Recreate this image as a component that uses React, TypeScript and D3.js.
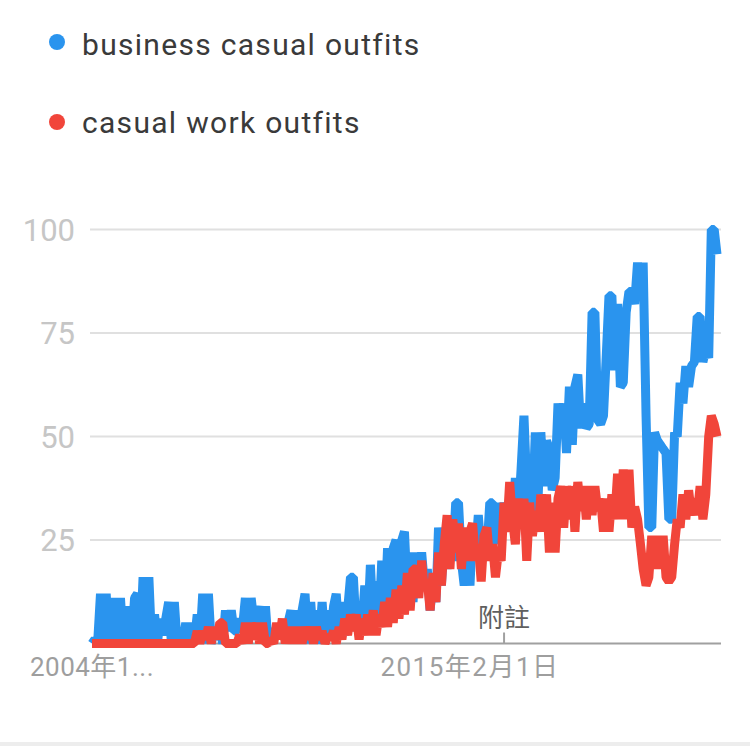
import * as d3 from 'd3'

// Google Trends style comparison, monthly interest 2004-01 .. 2022-05
const START = new Date(2004, 0, 1)
const END = new Date(2022, 4, 1)
const months = d3.timeMonth.range(START, d3.timeMonth.offset(END, 1))

const seriesNames = ['business casual outfits', 'casual work outfits']
const seriesColors = ['#2a94ee', '#f1453a']

// business casual outfits, one row per year (month to month it jumps a lot)
const businessCasual = [
  0, 1, 0, 12, 0, 12, 0, 0, 11, 0, 11, 0,
  0, 9, 0, 11, 12, 0, 16, 0, 16, 0, 7, 0,
  6, 2, 6, 10, 0, 10, 0, 0, 0, 5, 0, 5,
  0, 7, 0, 12, 0, 12, 0, 3, 1, 4, 0, 8,
  3, 8, 3, 3, 6, 4, 11, 0, 11, 5, 6, 9,
  0, 9, 0, 3, 2, 4, 2, 4, 1, 5, 8, 0,
  8, 0, 8, 12, 0, 10, 0, 8, 0, 10, 0, 8,
  2, 9, 12, 2, 10, 2, 8, 16, 16, 3, 10, 4,
  14, 4, 19, 5, 15, 5, 20, 6, 23, 8, 23, 25,
  10, 25, 27, 12, 22, 10, 22, 14, 22, 14, 18, 8,
  16, 10, 28, 14, 26, 18, 27, 20, 34, 34, 20, 14,
  20, 14, 28, 22, 31, 22, 25, 22, 34, 34, 24, 34,
  26, 34, 30, 33, 28, 40, 30, 42, 55, 38, 33, 32,
  51, 36, 51, 38, 49, 47, 37, 40, 58, 50, 58, 46,
  62, 48, 62, 65, 52, 58, 52, 53, 80, 80, 54, 53,
  55, 70, 84, 84, 66, 82, 62, 63, 80, 85, 85, 82,
  92, 84, 92, 55, 28, 28, 51, 49, 48, 47, 46, 30,
  30, 51, 50, 63, 58, 67, 62, 67, 68, 79, 79, 68,
  71, 69, 100, 100, 94
]

// casual work outfits, one row per year
const casualWork = [
  0, 0, 0, 0, 0, 0, 0, 0, 0, 0, 0, 0,
  0, 0, 0, 0, 0, 0, 0, 0, 0, 0, 0, 0,
  0, 0, 0, 0, 0, 0, 0, 0, 0, 0, 0, 0,
  0, 3, 0, 3, 1, 4, 0, 4, 1, 5, 5, 0,
  0, 0, 0, 0, 2, 0, 5, 0, 5, 1, 5, 0,
  5, 0, 0, 1, 0, 5, 1, 6, 0, 4, 0, 4,
  0, 4, 0, 4, 1, 4, 0, 4, 1, 3, 0, 2,
  1, 3, 0, 4, 1, 6, 2, 7, 3, 7, 1, 6,
  2, 7, 2, 8, 2, 7, 4, 10, 4, 11, 5, 13,
  6, 14, 7, 17, 8, 18, 18, 11, 20, 13, 15, 8,
  17, 10, 22, 14, 24, 31, 18, 30, 22, 29, 18, 28,
  20, 27, 29, 20, 24, 15, 26, 28, 20, 24, 16, 22,
  20, 34, 27, 39, 30, 24, 35, 28, 35, 20, 34, 26,
  32, 27, 36, 27, 36, 22, 34, 22, 35, 38, 28, 38,
  30, 38, 27, 39, 32, 38, 30, 38, 31, 38, 32, 35,
  27, 35, 27, 36, 30, 41, 30, 42, 30, 42, 28, 33,
  30, 24, 18, 14, 16, 26, 18, 26, 18, 26, 16, 15,
  16, 24, 30, 28, 36, 30, 37, 31, 35, 31, 38, 30,
  36, 50, 55, 53, 50
]

const yTicks = [25, 50, 75, 100]
const xTicks = [new Date(2004, 0, 1), new Date(2015, 1, 1)]
const xTickLabels = ['2004年1...', '2015年2月1日']
const noteDate = new Date(2016, 1, 1)
const noteLabel = '附註'

const W = 750
const H = 750

export default function App() {
  const x = d3.scaleTime().domain([START, END]).range([92, 717])
  const y = d3.scaleLinear().domain([0, 100]).range([643.5, 229.5])

  const line = d3.line<number>()
    .x((_, i) => x(months[i]))
    .y(d => y(d))

  const series = [businessCasual, casualWork]

  return (
    <div style={{ position: 'absolute', left: 0, top: 0 }}>
      <svg width={W} height={H} style={{ display: 'block', background: '#fff' }}>
        {/* legend */}
        {seriesNames.map((name, i) => (
          <g key={name}>
            <circle cx={57} cy={42 + i * 80} r={8} fill={seriesColors[i]} />
            <text x={82} y={55 + i * 78} fontFamily="Roboto" fontSize={30} letterSpacing={1.3} fill="#3a3a3a">
              {name}
            </text>
          </g>
        ))}

        {/* grid + y labels */}
        {yTicks.map(t => (
          <g key={t}>
            <line x1={90} x2={721} y1={y(t)} y2={y(t)} stroke="#e0e0e0" strokeWidth={2} />
            <text x={75} y={y(t) + 11} textAnchor="end" fontFamily="Roboto" fontSize={31} fill="#c6c6c6">
              {t}
            </text>
          </g>
        ))}

        {/* baseline */}
        <line x1={92} x2={721} y1={y(0)} y2={y(0)} stroke="#a0a0a0" strokeWidth={2} />

        {/* note marker */}
        <line x1={x(noteDate)} x2={x(noteDate)} y1={y(0) - 11} y2={y(0)} stroke="#a0a0a0" strokeWidth={2} />
        <text x={x(noteDate)} y={627} textAnchor="middle" fontFamily="'Noto Sans CJK TC'" fontSize={26} fill="#5f5f5f">
          {noteLabel}
        </text>

        {/* lines: red drawn over blue */}
        {series.map((s, i) => (
          <path key={i} d={line(s) ?? ''} fill="none" stroke={seriesColors[i]} strokeWidth={9} strokeLinejoin="bevel" />
        ))}

        {/* x labels */}
        {xTicks.map((t, i) => (
          <text key={i} x={x(t)} y={676} textAnchor="middle" fontFamily="Roboto, 'Noto Sans CJK TC'" fontSize={26}
            letterSpacing={i === 0 ? 0.5 : 1.5} fill="#9e9e9e">
            {xTickLabels[i]}
          </text>
        ))}

        {/* bottom divider */}
        <line x1={0} x2={W} y1={744} y2={744} stroke="#ededed" strokeWidth={4} />
      </svg>
    </div>
  )
}
